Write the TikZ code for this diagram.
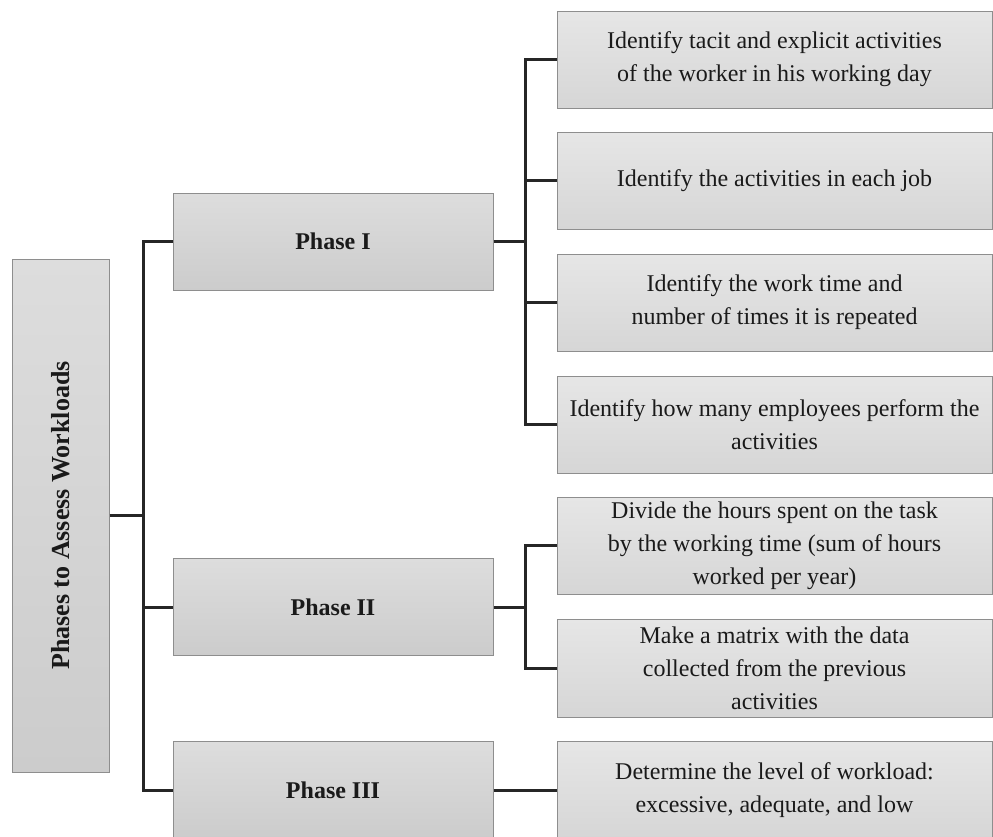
\documentclass[tikz,border=0pt]{standalone}
\usepackage{fontspec}
\setmainfont{Liberation Serif}
\definecolor{boxedge}{HTML}{8E8E8E}
\definecolor{linkc}{HTML}{262626}
\definecolor{ptop}{HTML}{DDDDDD}
\definecolor{pbot}{HTML}{CCCCCC}
\definecolor{ttop}{HTML}{E6E6E6}
\definecolor{tbot}{HTML}{D6D6D6}
\definecolor{txt}{HTML}{1A1A1A}
\begin{document}
\begin{tikzpicture}[x=1pt,y=-1pt,
  box/.style={rectangle, draw=boxedge, line width=1pt, inner sep=0pt, align=center, text=txt},
  phase/.style={box, top color=ptop, bottom color=pbot, minimum width=320pt, minimum height=97pt,
    font=\bfseries\fontsize{24}{28}\selectfont},
  task/.style={box, top color=ttop, bottom color=tbot, minimum width=435pt, minimum height=97pt,
    font=\fontsize{24}{33}\selectfont},
  link/.style={draw=linkc, line width=3pt}]
\clip (0,0) rectangle (993,836);
% root
\node (root) [box, top color=ptop, bottom color=pbot, minimum width=97pt, minimum height=513pt] at (60.5,515.5) {};
\node (roottext) [rotate=90, text=txt, font=\bfseries\fontsize{26}{30}\selectfont] at (root.center) {Phases to Assess Workloads};
% phases
\node (p1) [phase] at (333,241.5) {Phase I};
\node (p2) [phase] at (333,607) {Phase II};
\node (p3) [phase] at (333,790) {Phase III};
% tasks
\node (t1) [task] at (774.5,59.5) {Identify tacit and explicit activities\\of the worker in his working day};
\node (t2) [task] at (774.5,180.5) {Identify the activities in each job};
\node (t3) [task] at (774.5,302.5) {Identify the work time and\\number of times it is repeated};
\node (t4) [task] at (774.5,424.5) {Identify how many employees perform the\\activities};
\node (t5) [task] at (774.5,545.5) {Divide the hours spent on the task\\by the working time (sum of hours\\worked per year)};
\node (t6) [task, minimum height=98pt] at (774.5,668) {Make a matrix with the data\\collected from the previous\\activities};
\node (t7) [task] at (774.5,790) {Determine the level of workload:\\excessive, adequate, and low};
% connectors
\coordinate (tr) at (143,515.5);
\coordinate (j1) at (525,241.5);
\coordinate (j2) at (525,607);
\draw[link] (root.east) -- (tr);
\draw[link] (p1.west) -| (tr) |- (p3.west);
\draw[link] (tr) |- (p2.west);
\draw[link] (p1.east) -- (j1);
\draw[link] (t1.west) -| (j1) |- (t4.west);
\draw[link] (j1) |- (t2.west);
\draw[link] (j1) |- (t3.west);
\draw[link] (p2.east) -- (j2);
\draw[link] (t5.west) -| (j2) |- (t6.west);
\draw[link] (p3.east) -- (t7.west);
\end{tikzpicture}
\end{document}
